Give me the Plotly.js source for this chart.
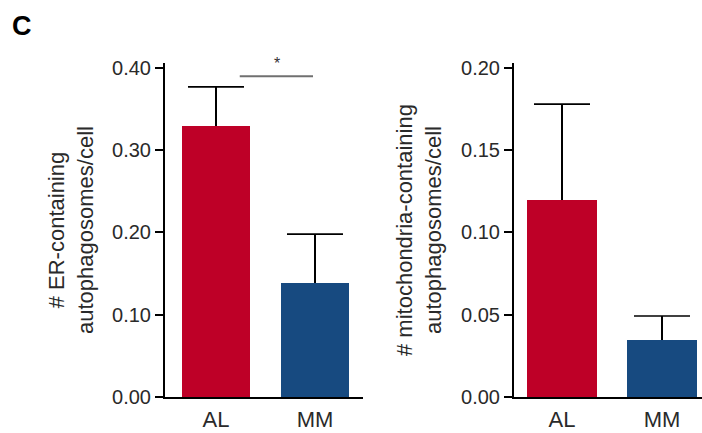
<!DOCTYPE html>
<html>
<head>
<meta charset="utf-8">
<script src="https://cdn.plot.ly/plotly-3.0.1.min.js"></script>
<style>html,body{margin:0;padding:0;background:#fff;}#chart{width:702px;height:433px;}</style>
</head>
<body>
<div id="chart"></div>
<script>
// Data
const categories = ['AL', 'MM'];
const erValues = [0.329, 0.139];
const erErrors = [0.048, 0.059];
const mitoValues = [0.120, 0.0347];
const mitoErrors = [0.058, 0.0145];
const erTicks = [0, 0.1, 0.2, 0.3, 0.4];
const erTickText = ['0.00', '0.10', '0.20', '0.30', '0.40'];
const mitoTicks = [0, 0.05, 0.1, 0.15, 0.2];
const mitoTickText = ['0.00', '0.05', '0.10', '0.15', '0.20'];
const barColors = ['#BE0027', '#174A80'];

const W = 702, H = 433;
const px = v => v / W;
const py = v => (H - v) / H;

const FAM = 'Liberation Sans, Arial, sans-serif';
const tickFont = {family: FAM, size: 20, color: '#2a2a2a'};
const xTickFont = {family: FAM, size: 22, color: '#2a2a2a'};

function barTrace(vals, errs, xa, ya, w) {
  return {
    type: 'bar', x: categories, y: vals, xaxis: xa, yaxis: ya,
    marker: {color: barColors}, width: w,
    error_y: {type: 'data', symmetric: false, array: errs, arrayminus: [0, 0], color: '#000', thickness: 1.6, width: 0},
    hoverinfo: 'none'
  };
}
function capTrace(vals, errs, xa, ya) {
  return {
    type: 'scatter', mode: 'markers', x: categories, y: vals.map((v, i) => v + errs[i]),
    xaxis: xa, yaxis: ya,
    marker: {symbol: 'line-ew-open', size: 40, color: '#000', line: {color: '#000', width: 1.6}},
    hoverinfo: 'none', cliponaxis: false
  };
}

const traces = [
  barTrace(erValues, erErrors, 'x', 'y', 0.687),
  capTrace(erValues, erErrors, 'x', 'y'),
  barTrace(mitoValues, mitoErrors, 'x2', 'y2', 0.7),
  capTrace(mitoValues, mitoErrors, 'x2', 'y2')
];

const axisCommon = {
  showgrid: false, zeroline: false, showline: true, linecolor: '#000', linewidth: 2
};

const layout = {
  width: W, height: H,
  margin: {l: 0, r: 0, t: 0, b: 0},
  paper_bgcolor: '#fff', plot_bgcolor: 'rgba(0,0,0,0)',
  showlegend: false,
  bargap: 0,
  xaxis: Object.assign({}, axisCommon, {
    domain: [px(165), px(363)], anchor: 'y', type: 'category',
    range: [-0.515, 1.485], ticks: '', tickfont: xTickFont, ticklabelstandoff: 2
  }),
  yaxis: Object.assign({}, axisCommon, {
    domain: [py(397), py(63)], anchor: 'x',
    range: [0, 0.406], tickvals: erTicks, ticktext: erTickText,
    ticks: 'outside', ticklen: 8, tickwidth: 2, tickcolor: '#000', tickfont: tickFont
  }),
  xaxis2: Object.assign({}, axisCommon, {
    domain: [px(514), 1], anchor: 'y2', type: 'category',
    range: [-0.48, 1.4], ticks: '', tickfont: xTickFont, ticklabelstandoff: 2
  }),
  yaxis2: Object.assign({}, axisCommon, {
    domain: [py(397), py(63)], anchor: 'x2',
    range: [0, 0.203], tickvals: mitoTicks, ticktext: mitoTickText,
    ticks: 'outside', ticklen: 8, tickwidth: 2, tickcolor: '#000', tickfont: tickFont
  }),
  shapes: [
    {type: 'line', xref: 'x', yref: 'y', x0: 0.24, x1: 0.98, y0: 0.39, y1: 0.39,
     line: {color: '#707070', width: 2}}
  ],
  annotations: [
    {text: '<b>C</b>', xref: 'paper', yref: 'paper', x: px(10), y: py(9),
     xanchor: 'left', yanchor: 'top', showarrow: false,
     font: {family: FAM, size: 27, color: '#000'}},
    {text: '*', xref: 'x', yref: 'y', x: 0.62, y: 0.393, yanchor: 'bottom', showarrow: false,
     font: {family: FAM, size: 16, color: '#333'}},
    {text: '# ER-containing<br>autophagosomes/cell', xref: 'paper', yref: 'paper',
     x: px(71), y: py(230), textangle: -90, showarrow: false, xanchor: 'center', yanchor: 'middle',
     font: {family: FAM, size: 22, color: '#2a2a2a'}},
    {text: '# mitochondria-containing<br>autophagosomes/cell', xref: 'paper', yref: 'paper',
     x: px(419), y: py(230), textangle: -90, showarrow: false, xanchor: 'center', yanchor: 'middle',
     font: {family: FAM, size: 22, color: '#2a2a2a'}}
  ]
};

Plotly.newPlot('chart', traces, layout, {staticPlot: true, displayModeBar: false});
</script>
</body>
</html>
